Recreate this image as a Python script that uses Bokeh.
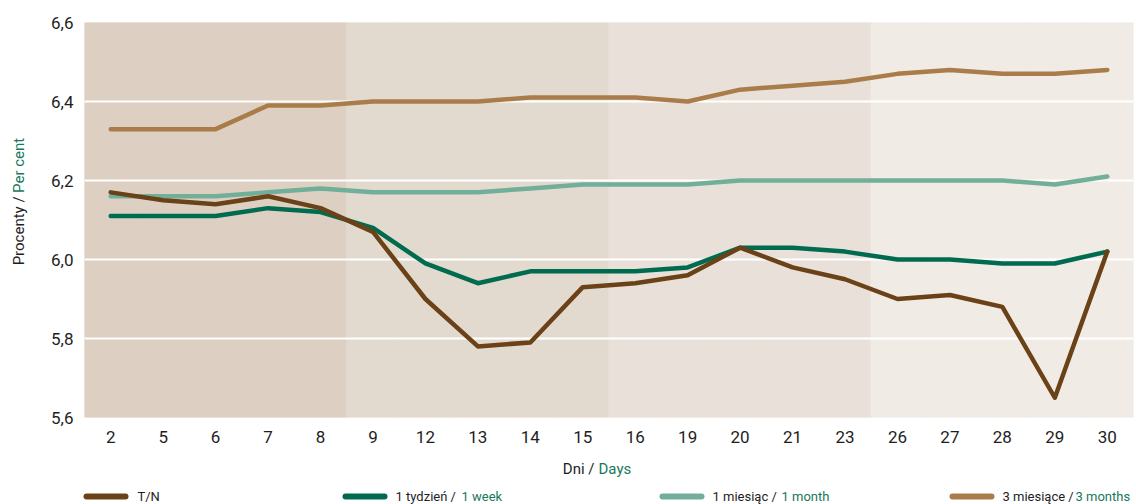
import math
from bokeh.plotting import figure
from bokeh.layouts import row, column
from bokeh.models import (FactorRange, Range1d, FixedTicker, CustomJSTickFormatter,
                          ColumnDataSource)
from bokeh.core.properties import value
from bokeh.embed import file_html
from bokeh.resources import INLINE

days = ["2", "5", "6", "7", "8", "9", "12", "13", "14", "15",
        "16", "19", "20", "21", "23", "26", "27", "28", "29", "30"]
tn = [6.17, 6.15, 6.14, 6.16, 6.13, 6.07, 5.90, 5.78, 5.79, 5.93,
      5.94, 5.96, 6.03, 5.98, 5.95, 5.90, 5.91, 5.88, 5.65, 6.02]
week1 = [6.11, 6.11, 6.11, 6.13, 6.12, 6.08, 5.99, 5.94, 5.97, 5.97,
         5.97, 5.98, 6.03, 6.03, 6.02, 6.00, 6.00, 5.99, 5.99, 6.02]
month1 = [6.16, 6.16, 6.16, 6.17, 6.18, 6.17, 6.17, 6.17, 6.18, 6.19,
          6.19, 6.19, 6.20, 6.20, 6.20, 6.20, 6.20, 6.20, 6.19, 6.21]
month3 = [6.33, 6.33, 6.33, 6.39, 6.39, 6.40, 6.40, 6.40, 6.41, 6.41,
          6.41, 6.40, 6.43, 6.44, 6.45, 6.47, 6.48, 6.47, 6.47, 6.48]
band_group = [0, 0, 0, 0, 0, 1, 1, 1, 1, 1, 2, 2, 2, 2, 2, 3, 3, 3, 3, 3]
y_ticks = [5.6, 5.8, 6.0, 6.2, 6.4, 6.6]
legend_pl = ["T/N", "1 tydzień /", "1 miesiąc /", "3 miesiące /"]
legend_en = ["", "1 week", "1 month", "3 months"]

BAND_COLORS = ["#DDD0C3", "#E3DACF", "#E9E1D9", "#F0EBE5"]
C_TN = "#6B4118"
C_W = "#006B4F"
C_M = "#72AF99"
C_3M = "#A97C4A"
C_TXT = "#1E1E1E"
C_GRN = "#17785B"
FONT = "Roboto"

H_MAIN = 452
H_BOT = 504 - H_MAIN
W_LEFT = 30

# ---------------- main chart ----------------
p = figure(width=1136 - W_LEFT, height=H_MAIN, x_range=FactorRange(*days, range_padding=0),
           y_range=Range1d(5.6, 6.6), output_backend="svg", toolbar_location=None,
           min_border_left=84 - W_LEFT, min_border_right=3, min_border_top=22,
           min_border_bottom=H_MAIN - 417)
p.outline_line_color = None
p.background_fill_color = "white"

bsrc = ColumnDataSource(dict(x=days, c=[BAND_COLORS[g] for g in band_group]))
p.vbar(x="x", top=y_ticks[-1], bottom=y_ticks[0], width=1.0, fill_color="c",
       line_color="c", line_width=1, source=bsrc, level="image")

p.xgrid.grid_line_color = None
p.ygrid.grid_line_color = "white"
p.ygrid.grid_line_width = 2
p.ygrid.ticker = FixedTicker(ticks=y_ticks)

for series, col in [(month3, C_3M), (month1, C_M), (week1, C_W), (tn, C_TN)]:
    p.line(days, series, line_color=col, line_width=4.5, line_cap="round", line_join="round")

p.yaxis.ticker = FixedTicker(ticks=y_ticks)
p.yaxis.formatter = CustomJSTickFormatter(code="return tick.toFixed(1).replace('.', ',');")
for ax in (p.xaxis[0], p.yaxis[0]):
    ax.axis_line_color = None
    ax.major_tick_line_color = None
    ax.minor_tick_line_color = None
    ax.major_tick_out = 0
    ax.major_label_text_font = FONT
    ax.major_label_text_font_size = "17px"
    ax.major_label_text_color = C_TXT
p.yaxis.major_label_standoff = 11
p.xaxis.major_label_standoff = 13

def blank(fig):
    fig.axis.visible = False
    fig.grid.visible = False
    fig.outline_line_color = None
    fig.min_border_left = fig.min_border_right = 0
    fig.min_border_top = fig.min_border_bottom = 0

# ---------------- y axis title (left strip) ----------------
r = figure(width=W_LEFT, height=H_MAIN, x_range=Range1d(0, W_LEFT),
           y_range=Range1d(H_MAIN, 0), output_backend="svg", toolbar_location=None)
blank(r)
r.text(x=[18], y=[199], text=["Procenty /"], angle=math.pi / 2, text_align="right",
       text_baseline="middle", text_color=C_TXT, text_font=value(FONT), text_font_size="15px")
r.text(x=[18], y=[195], text=["Per cent"], angle=math.pi / 2, text_align="left",
       text_baseline="middle", text_color=C_GRN, text_font=value(FONT), text_font_size="15px")

# ---------------- x title + legend (bottom strip) ----------------
q = figure(width=1136, height=H_BOT, x_range=Range1d(0, 1136),
           y_range=Range1d(H_BOT, 0), output_backend="svg", toolbar_location=None)
blank(q)
q.text(x=[594], y=[16], text=["Dni /"], text_align="right", text_baseline="middle",
       text_color=C_TXT, text_font=value(FONT), text_font_size="15px")
q.text(x=[598], y=[16], text=["Days"], text_align="left", text_baseline="middle",
       text_color=C_GRN, text_font=value(FONT), text_font_size="15px")

sw_x0 = [86, 345, 662, 952]
txt_x = [137, 395, 712, 1002]
en_x = [0, 461, 781, 1075]
colors = [C_TN, C_W, C_M, C_3M]
q.segment(x0=sw_x0, x1=[x + 39 for x in sw_x0], y0=[44] * 4, y1=[44] * 4,
          line_color=colors, line_width=6, line_cap="round")
q.text(x=txt_x, y=[44] * 4, text=legend_pl, text_align="left", text_baseline="middle",
       text_color=C_TXT, text_font=value(FONT), text_font_size="13px")
q.text(x=en_x[1:], y=[44] * 3, text=legend_en[1:], text_align="left", text_baseline="middle",
       text_color=C_GRN, text_font=value(FONT), text_font_size="13px")

layout = column(row(r, p, spacing=0), q, spacing=0)
open("out.html", "w").write(file_html(layout, INLINE))
